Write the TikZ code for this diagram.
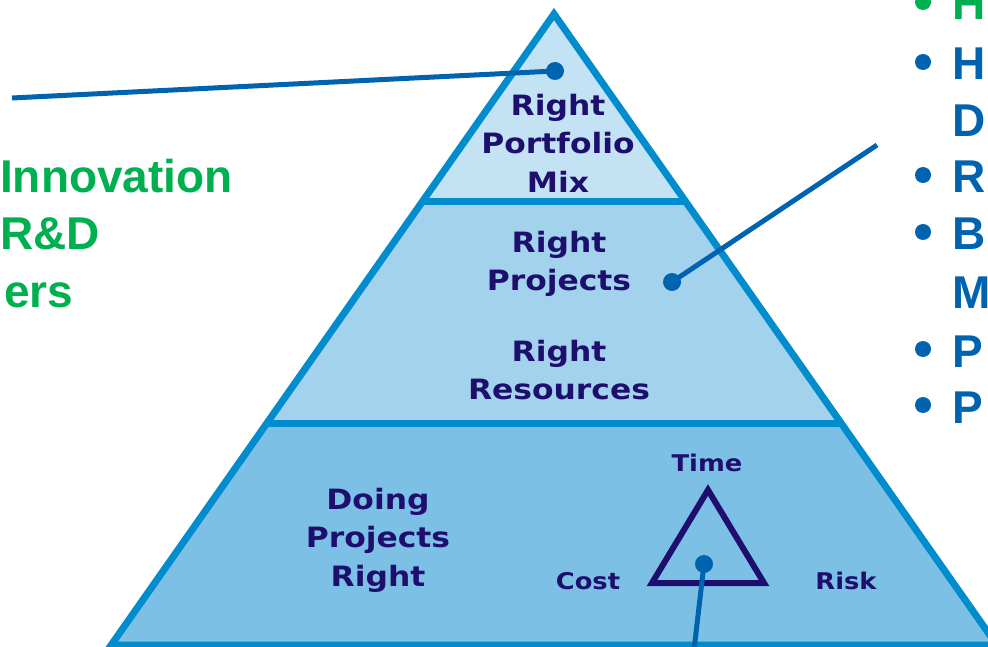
\documentclass[tikz,border=0pt]{standalone}
\usepackage{fontspec}
\newfontfamily\pyrfont{DejaVu Sans}[FakeStretch=1.12]
\newfontfamily\sidefont{Liberation Sans}
\definecolor{rimblue}{RGB}{0,140,205}
\definecolor{linkblue}{RGB}{0,99,176}
\definecolor{navy}{RGB}{30,15,110}
\definecolor{leafgreen}{RGB}{0,176,80}
\definecolor{tierone}{RGB}{195,227,244}
\definecolor{tiertwo}{RGB}{162,210,236}
\definecolor{tierthree}{RGB}{125,192,230}
\tikzset{
  tier/.style={font=\pyrfont\bfseries\fontsize{28}{38.5}\selectfont, text=navy, align=center},
  corner/.style={font=\pyrfont\bfseries\fontsize{23}{26}\selectfont, text=navy},
  side/.style={font=\sidefont\bfseries\fontsize{46}{57}\selectfont, anchor=base west, inner sep=0pt},
  pin/.style={circle, fill=linkblue, inner sep=0pt, minimum size=18pt},
  link/.style={linkblue, line width=5pt},
  bullet/.style={circle, fill=#1, inner sep=0pt, minimum size=16pt}
}
\begin{document}
\begin{tikzpicture}[x=1pt,y=-1pt]
\useasboundingbox (0,0) rectangle (988,647);
\clip (0,0) rectangle (988,647);
% Patra pyramidy
\fill[tierone] (554,14) -- (685.9,202) -- (422.1,202) -- cycle;
\fill[tiertwo] (422.1,202) -- (685.9,202) -- (841,423) -- (267,423) -- cycle;
\fill[tierthree] (267,423) -- (841,423) -- (996.8,645) -- (111.2,645) -- cycle;
\draw[rimblue, line width=7pt] (554,14) -- (996.8,645) -- (111.2,645) -- cycle;
\draw[rimblue, line width=7pt] (422.1,202) -- (685.9,202);
\draw[rimblue, line width=7pt] (267,423) -- (841,423);
% Popisky pater
\node[tier] (mix) at (558,143) {Right\\Portfolio\\Mix};
\node[tier] (proj) at (559,264) {Right\\Projects};
\node[tier] (res) at (559,370) {Right\\Resources};
\node[tier] (doing) at (378,540) {Doing\\Projects\\Right};
% Maly trojuhelnik
\draw[navy, line width=6pt] (708,490) -- (764,583) -- (652,583) -- cycle;
\node[corner] (time) at (707,463) {Time};
\node[corner] (cost) at (588,581) {Cost};
\node[corner] (risk) at (846,581) {Risk};
% Odkazy
\node[pin] (pinmix) at (555,71) {};
\node[pin] (pinproj) at (672,282) {};
\node[pin] (pindoing) at (704,564) {};
\coordinate (endmix) at (12,98);
\coordinate (endproj) at (877,145);
\coordinate (enddoing) at (694,650);
\draw[link] (endmix) -- (pinmix.center);
\draw[link] (endproj) -- (pinproj.center);
\draw[link] (enddoing) -- (pindoing.center);
% Text vlevo
\node[side, text=leafgreen] (innov) at (0,193) {Innovation};
\node[side, text=leafgreen] (rd) at (0,250) {R\&D};
\node[side, text=leafgreen] (ers) at (4,307) {ers};
% Odrazky vpravo
\node[bullet=leafgreen] (b0) at (923,2) {};
\node[side, text=leafgreen] (t0) at (952,20) {H};
\node[bullet=linkblue] (b1) at (923,62) {};
\node[side, text=linkblue] (t1) at (952,80) {H};
\node[side, text=linkblue] (t2) at (952,137) {D};
\node[bullet=linkblue] (b3) at (923,175) {};
\node[side, text=linkblue] (t3) at (952,193) {R};
\node[bullet=linkblue] (b4) at (923,232) {};
\node[side, text=linkblue] (t4) at (952,250) {B};
\node[side, text=linkblue] (t5) at (952,308) {M};
\node[bullet=linkblue] (b6) at (923,349) {};
\node[side, text=linkblue] (t6) at (952,367) {P};
\node[bullet=linkblue] (b7) at (923,405) {};
\node[side, text=linkblue] (t7) at (952,423) {P};
\end{tikzpicture}
\end{document}
